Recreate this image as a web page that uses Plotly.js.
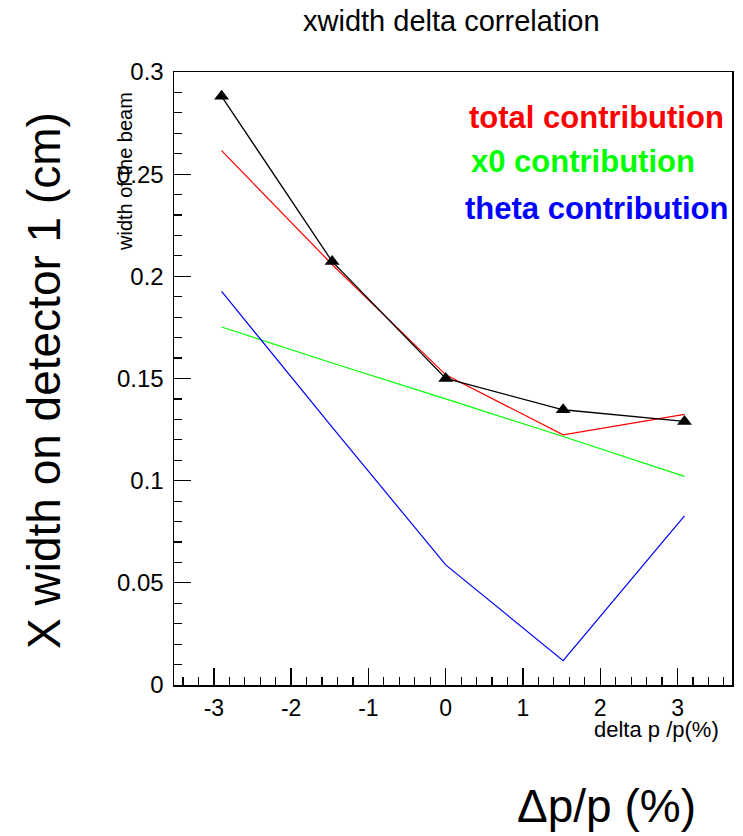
<!DOCTYPE html>
<html>
<head>
<meta charset="utf-8">
<script src="https://cdn.plot.ly/plotly-3.0.1.min.js"></script>
<style>html,body{margin:0;padding:0;background:#fff;}#chart{width:743px;height:836px;}</style>
</head>
<body>
<div id="chart"></div>
<script>
// ---- data ----
var deltaP = [-2.90, -1.47, 0.00, 1.52, 3.09];
var beamWidth = [0.2881, 0.2073, 0.1500, 0.1347, 0.1290];
var totalContribution = [0.2615, 0.2058, 0.1518, 0.1224, 0.1324];
var x0Contribution = [0.1752, 0.1576, 0.1400, 0.1216, 0.1021];
var thetaContribution = [0.1926, 0.1262, 0.0588, 0.0119, 0.0828];

var xTickVals = [-3, -2, -1, 0, 1, 2, 3];
var xTickText = ["-3", "-2", "-1", "0", "1", "2", "3"];
var yTickVals = [0, 0.05, 0.1, 0.15, 0.2, 0.25, 0.3];
var yTickText = ["0", "0.05", "0.1", "0.15", "0.2", "0.25", "0.3"];

// ---- layout geometry (pixels) ----
var W = 743, H = 836;
var L = 174, R = 11, T = 72, B = 151;
var pw = W - L - R, ph = H - T - B;
function px(x) { return (x - L) / pw; }
function py(y) { return (H - B - y) / ph; }

var FONT = "Liberation Sans, Arial, Helvetica, sans-serif";

var traces = [
  {x: deltaP, y: totalContribution, mode: "lines", line: {color: "#ff0000", width: 1.2}, hoverinfo: "skip"},
  {x: deltaP, y: x0Contribution, mode: "lines", line: {color: "#00ff00", width: 1.2}, hoverinfo: "skip"},
  {x: deltaP, y: thetaContribution, mode: "lines", line: {color: "#0000ff", width: 1.2}, hoverinfo: "skip"},
  {x: deltaP, y: beamWidth, mode: "lines+markers", line: {color: "#000000", width: 1.3},
   marker: {symbol: "triangle-up", size: 13, color: "#000000"}, hoverinfo: "skip"}
];

var axisCommon = {
  showline: true, linecolor: "#000", linewidth: 1.5, mirror: true,
  ticks: "inside", ticklen: 17, tickwidth: 1.3, tickcolor: "#000",
  tickmode: "array", showgrid: false, zeroline: false,
  tickfont: {family: FONT, size: 23, color: "#000"}
};

var layout = {
  width: W, height: H,
  margin: {l: L, r: R, t: T, b: B, pad: 0},
  paper_bgcolor: "#fff", plot_bgcolor: "#fff",
  showlegend: false,
  xaxis: Object.assign({}, axisCommon, {
    range: [-3.516, 3.705], tickvals: xTickVals, ticktext: xTickText, ticklabelstandoff: 2,
    minor: {tickmode: "linear", tick0: 0, dtick: 0.2, ticks: "inside", ticklen: 8, tickwidth: 1.2, tickcolor: "#000", showgrid: false}
  }),
  yaxis: Object.assign({}, axisCommon, {
    range: [0, 0.3], tickvals: yTickVals, ticktext: yTickText, ticklabelstandoff: 4,
    tickfont: {family: FONT, size: 24, color: "#000"},
    minor: {tickmode: "linear", tick0: 0, dtick: 0.01, ticks: "inside", ticklen: 8, tickwidth: 1.2, tickcolor: "#000", showgrid: false}
  }),
  annotations: [
    {text: "xwidth delta correlation", xref: "paper", yref: "paper", x: px(451), y: py(21), xanchor: "center", yanchor: "middle",
     showarrow: false, font: {family: FONT, size: 29, color: "#000"}},
    {text: "total contribution", xref: "paper", yref: "paper", x: px(467), y: py(117), xanchor: "left", yanchor: "middle",
     showarrow: false, font: {family: FONT, size: 31, color: "#ff0000", weight: "bold"}},
    {text: "x0 contribution", xref: "paper", yref: "paper", x: px(469), y: py(161), xanchor: "left", yanchor: "middle",
     showarrow: false, font: {family: FONT, size: 31, color: "#00ff00", weight: "bold"}},
    {text: "theta contribution", xref: "paper", yref: "paper", x: px(463), y: py(208), xanchor: "left", yanchor: "middle",
     showarrow: false, font: {family: FONT, size: 31, color: "#0000ff", weight: "bold"}},
    {text: "width of the beam", xref: "paper", yref: "paper", x: px(125), y: py(172), xanchor: "center", yanchor: "middle",
     textangle: -90, showarrow: false, font: {family: FONT, size: 20, color: "#000"}},
    {text: "delta p /p(%)", xref: "paper", yref: "paper", x: px(721), y: py(729), xanchor: "right", yanchor: "middle",
     showarrow: false, font: {family: FONT, size: 22, color: "#000"}},
    {text: "X width on detector 1 (cm)", xref: "paper", yref: "paper", x: px(44), y: py(381), xanchor: "center", yanchor: "middle",
     textangle: -90, showarrow: false, font: {family: FONT, size: 46, color: "#000"}},
    {text: "Δp/p (%)", xref: "paper", yref: "paper", x: px(606), y: py(806), xanchor: "center", yanchor: "middle",
     showarrow: false, font: {family: FONT, size: 46, color: "#000"}}
  ]
};

Plotly.newPlot("chart", traces, layout, {displayModeBar: false, staticPlot: true});
</script>
</body>
</html>
